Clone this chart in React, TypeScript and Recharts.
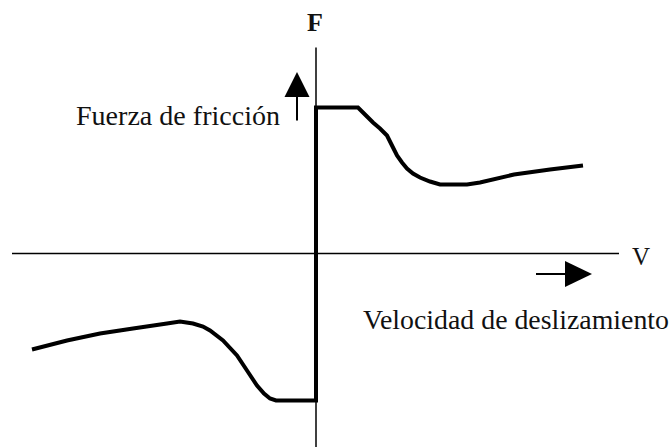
import { LineChart, Line, XAxis, YAxis, ReferenceLine, ReferenceDot } from "recharts";

// Friction force vs. sliding velocity (Stribeck-type curve), arbitrary units
const velocity = [
  -2.84, -2.49, -2.16, -1.83, -1.49, -1.36, -1.23, -1.13, -1.06, -0.93, -0.79, -0.69, -0.59, -0.52, -0.46,
  -0.4, 0, 0, 0.42, 0.5, 0.57, 0.64, 0.71, 0.76, 0.81, 0.86, 0.91, 0.97, 1.04, 1.14, 1.24, 1.51, 1.64,
  1.98, 2.34, 2.67,
];
const force = [
  -0.96, -0.87, -0.8, -0.75, -0.7, -0.68, -0.7, -0.73, -0.77, -0.87, -1.02, -1.17, -1.32, -1.4, -1.45,
  -1.47, -1.47, 1.46, 1.46, 1.38, 1.31, 1.25, 1.18, 1.08, 0.98, 0.91, 0.85, 0.8, 0.76, 0.72, 0.69, 0.69,
  0.71, 0.79, 0.84, 0.88,
];

const axisTitles = { force: "F", velocity: "V" };
const captions = { force: "Fuerza de fricción", velocity: "Velocidad de deslizamiento" };

const data = velocity.map((v, i) => ({ v, f: force[i] }));

const W = 672;
const H = 447;
const serif = '"Times New Roman", "Liberation Serif", serif';

// arrow head drawn as a filled triangle around the reference point
const ArrowHead = ({ cx, cy, dir }: { cx?: number; cy?: number; dir: "up" | "right" }) => {
  if (cx == null || cy == null) return null;
  const pts =
    dir === "up"
      ? `${cx},${cy - 25} ${cx - 12.5},${cy} ${cx + 12.5},${cy}`
      : `${cx + 27},${cy} ${cx},${cy - 13} ${cx},${cy + 13}`;
  return <polygon points={pts} fill="#000" />;
};

const TextAt = (props: any) => {
  const { cx, cy, text, anchor = "start", bold = false, size = 27, len } = props;
  if (cx == null || cy == null) return null;
  return (
    <text
      x={cx}
      y={cy}
      textAnchor={anchor}
      fontFamily={serif}
      fontSize={size}
      fontWeight={bold ? 700 : 400}
      fill="#111"
      textLength={len}
      lengthAdjust={len ? "spacingAndGlyphs" : undefined}
    >
      {text}
    </text>
  );
};

export default function App() {
  return (
    <div
      style={{ position: "absolute", left: 0, top: 0, width: W, height: H, background: "#fff", fontFamily: serif }}
    >
      <LineChart width={W} height={H} data={data} margin={{ top: 0, right: 0, bottom: 0, left: 0 }}>
        <XAxis type="number" dataKey="v" domain={[-3.16, 3.56]} allowDataOverflow hide />
        <YAxis type="number" domain={[-1.935, 2.535]} allowDataOverflow hide />

        {/* coordinate axes */}
        <ReferenceLine
          segment={[{ x: -3.04, y: 0 }, { x: 3.03, y: 0 }]}
          stroke="#000"
          strokeWidth={1.5}
          ifOverflow="visible"
        />
        <ReferenceLine
          segment={[{ x: 0, y: 2.06 }, { x: 0, y: -1.935 }]}
          stroke="#000"
          strokeWidth={1.5}
          ifOverflow="visible"
        />

        {/* direction arrows */}
        <ReferenceLine segment={[{ x: -0.19, y: 1.33 }, { x: -0.19, y: 1.6 }]} stroke="#000" strokeWidth={2} />
        <ReferenceDot x={-0.19} y={1.565} r={0} shape={(p: any) => <ArrowHead {...p} dir="up" />} />
        <ReferenceLine segment={[{ x: 2.2, y: -0.205 }, { x: 2.5, y: -0.205 }]} stroke="#000" strokeWidth={2} />
        <ReferenceDot x={2.49} y={-0.205} r={0} shape={(p: any) => <ArrowHead {...p} dir="right" />} />

        <Line
          type="linear"
          dataKey="f"
          stroke="#000"
          strokeWidth={4}
          strokeLinejoin="miter"
          strokeLinecap="butt"
          dot={false}
          activeDot={false}
          isAnimationActive={false}
        />

        {/* labels */}
        <ReferenceDot
          x={-0.01}
          y={2.225}
          r={0}
          shape={(p: any) => <TextAt {...p} text={axisTitles.force} anchor="middle" bold size={26} />}
        />
        <ReferenceDot
          x={3.25}
          y={-0.115}
          r={0}
          ifOverflow="visible"
          shape={(p: any) => <TextAt {...p} text={axisTitles.velocity} anchor="middle" size={25} />}
        />
        <ReferenceDot
          x={-2.4}
          y={1.285}
          r={0}
          shape={(p: any) => <TextAt {...p} text={captions.force} len={204} />}
        />
        <ReferenceDot
          x={0.47}
          y={-0.755}
          r={0}
          ifOverflow="visible"
          shape={(p: any) => <TextAt {...p} text={captions.velocity} len={306} />}
        />
      </LineChart>
    </div>
  );
}
